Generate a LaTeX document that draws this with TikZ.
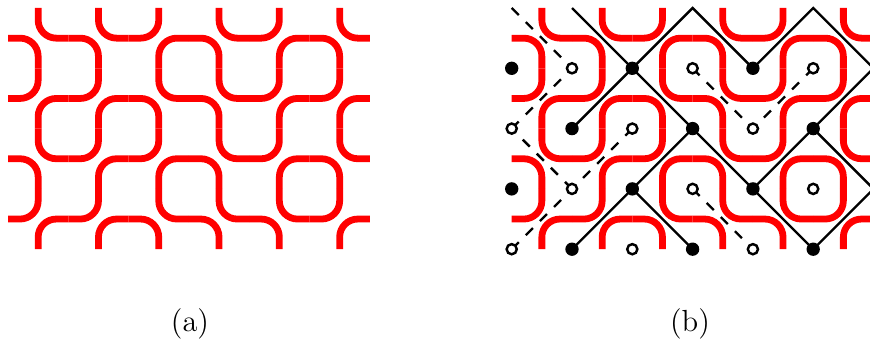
\documentclass[tikz,border=0pt]{standalone}
\usetikzlibrary{backgrounds}
\definecolor{loopC}{HTML}{FF0000}
\definecolor{latC}{HTML}{000000}
\tikzset{
  loopline/.style={draw=loopC,line width=3.2pt,rounded corners=0.3cm},
  latline/.style={draw=latC,line width=1.1pt},
  duallat/.style={latline,dash pattern=on 4.7pt off 4.7pt},
  fulldot/.style={circle,fill=latC,inner sep=0pt,minimum size=6.3pt},
  opendot/.style={circle,draw=latC,fill=white,line width=1.15pt,inner sep=0pt,minimum size=4.8pt},
  panlab/.style={font=\Large}}
% one vertex of the loop grid: corners NE+SW (A) or NW+SE (B)
\newcommand{\tileA}[2]{%
  \draw[loopline] (#1+0.5,#2) -- (#1+0.5,#2+0.5) -- (#1+1,#2+0.5);
  \draw[loopline] (#1,#2+0.5) -- (#1+0.5,#2+0.5) -- (#1+0.5,#2+1);}
\newcommand{\tileB}[2]{%
  \draw[loopline] (#1+0.5,#2) -- (#1+0.5,#2+0.5) -- (#1,#2+0.5);
  \draw[loopline] (#1+1,#2+0.5) -- (#1+0.5,#2+0.5) -- (#1+0.5,#2+1);}
\newcommand{\loopgrid}{%
  \tileA{0}{0}\tileA{1}{0}\tileB{2}{0}\tileA{3}{0}\tileB{4}{0}\tileA{5}{0}
  \tileB{0}{1}\tileB{1}{1}\tileA{2}{1}\tileA{3}{1}\tileB{4}{1}\tileB{5}{1}
  \tileA{0}{2}\tileB{1}{2}\tileB{2}{2}\tileA{3}{2}\tileB{4}{2}\tileA{5}{2}
  \tileB{0}{3}\tileB{1}{3}\tileA{2}{3}\tileA{3}{3}\tileA{4}{3}\tileB{5}{3}}
\begin{document}
\begin{tikzpicture}[x=1cm,y=-1cm]
\useasboundingbox (0,0) rectangle (14.428,5.755);
% (a) loops only
\begin{scope}[shift={(0.1327,0.1327)}]
\loopgrid
\end{scope}
% (b) loops with both lattices
\begin{scope}[shift={(8.486,0.1327)}]
\loopgrid
\node[fulldot] (p01) at (0,1) {}; \node[opendot] (p11) at (1,1) {}; \node[fulldot] (p21) at (2,1) {};
\node[opendot] (p31) at (3,1) {}; \node[fulldot] (p41) at (4,1) {}; \node[opendot] (p51) at (5,1) {};
\node[opendot] (p02) at (0,2) {}; \node[fulldot] (p12) at (1,2) {}; \node[opendot] (p22) at (2,2) {};
\node[fulldot] (p32) at (3,2) {}; \node[opendot] (p42) at (4,2) {}; \node[fulldot] (p52) at (5,2) {};
\node[fulldot] (p03) at (0,3) {}; \node[opendot] (p13) at (1,3) {}; \node[fulldot] (p23) at (2,3) {};
\node[opendot] (p33) at (3,3) {}; \node[fulldot] (p43) at (4,3) {}; \node[opendot] (p53) at (5,3) {};
\node[opendot] (p04) at (0,4) {}; \node[fulldot] (p14) at (1,4) {}; \node[opendot] (p24) at (2,4) {};
\node[fulldot] (p34) at (3,4) {}; \node[opendot] (p44) at (4,4) {}; \node[fulldot] (p54) at (5,4) {};
\coordinate (p00) at (0,0); \coordinate (p10) at (1,0); \coordinate (p30) at (3,0);
\coordinate (p50) at (5,0); \coordinate (p61) at (6,1); \coordinate (p63) at (6,3);
\begin{scope}[on background layer]
\draw[latline] (p10) -- (p21.center) -- (p32.center) -- (p23.center) -- (p14.center);
\draw[latline] (p12.center) -- (p21.center) -- (p30) -- (p41.center) -- (p50) -- (p61) -- (p52.center)
  -- (p63) -- (p54.center) -- (p43.center) -- (p32.center);
\draw[latline] (p52.center) -- (p43.center);
\draw[latline] (p23.center) -- (p34.center);
\draw[duallat] (p00) -- (p11.center);
\draw[duallat] (p02.center) -- (p11.center);
\draw[duallat] (p13.center) -- (p02.center);
\draw[duallat] (p22.center) -- (p13.center);
\draw[duallat] (p04.center) -- (p13.center);
\draw[duallat] (p31.center) -- (p42.center);
\draw[duallat] (p51.center) -- (p42.center);
\draw[duallat] (p33.center) -- (p44.center);
\end{scope}
\end{scope}
\node[panlab] (laba) at (3.151,5.373) {(a)};
\node[panlab] (labb) at (11.443,5.373) {(b)};
\end{tikzpicture}
\end{document}
